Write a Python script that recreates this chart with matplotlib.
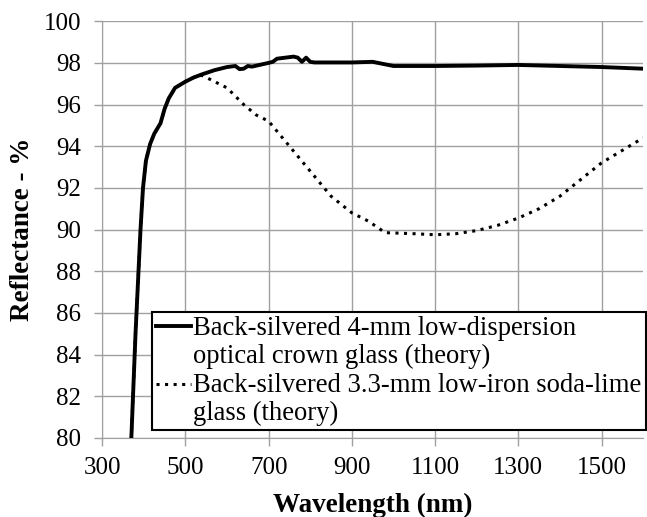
import matplotlib.pyplot as plt
import numpy as np
from matplotlib.legend_handler import HandlerLine2D

plt.rcParams['font.family'] = ['Liberation Serif', 'DejaVu Serif']

# crown glass (solid)
wl_crown = [370, 375, 380, 386, 392, 398, 405, 415, 425, 440, 450, 460, 475, 500, 520, 540,
            570, 600, 620, 630, 640, 650, 660, 700, 710, 720, 760, 770, 780, 790, 800,
            810, 900, 950, 1000, 1100, 1200, 1300, 1400, 1500, 1600]
r_crown = [80.0, 82.5, 85.0, 87.5, 90.0, 92.0, 93.3, 94.1, 94.6, 95.1, 95.8, 96.3, 96.8, 97.1, 97.3, 97.45,
           97.65, 97.8, 97.85, 97.7, 97.72, 97.85, 97.82, 98.0, 98.05, 98.2, 98.3, 98.25, 98.05, 98.25, 98.05,
           98.02, 98.02, 98.05, 97.85, 97.85, 97.87, 97.9, 97.85, 97.8, 97.72]

# soda-lime glass (dotted)
wl_soda = [370, 375, 380, 386, 392, 398, 405, 415, 425, 440, 450, 460, 475, 500, 520, 540,
           560, 600, 640, 670, 700, 750, 800, 850, 900, 940, 980, 1050, 1100, 1150, 1200,
           1250, 1300, 1350, 1400, 1450, 1500, 1550, 1600]
r_soda = [80.0, 82.5, 85.0, 87.5, 90.0, 92.0, 93.3, 94.1, 94.6, 95.1, 95.8, 96.3, 96.8, 97.1, 97.3, 97.4,
          97.2, 96.8, 96.0, 95.5, 95.2, 94.0, 92.8, 91.6, 90.8, 90.4, 89.85, 89.8, 89.75, 89.8, 89.95,
          90.2, 90.55, 91.0, 91.6, 92.4, 93.2, 93.8, 94.4]

label_crown = "Back-silvered 4-mm low-dispersion\noptical crown glass (theory)"
label_soda = "Back-silvered 3.3-mm low-iron soda-lime\nglass (theory)"


class FirstLineHandler(HandlerLine2D):
    # put the legend line next to the first text line, like Excel does
    def create_artists(self, legend, orig_handle, xdescent, ydescent, width, height, fontsize, trans):
        return super().create_artists(legend, orig_handle, xdescent, ydescent - 1.2 * fontsize,
                                      width, height, fontsize, trans)


fig = plt.figure(figsize=(6.47, 5.17), dpi=100)
ax = fig.add_axes([0.158, 0.153, 0.836, 0.806])

l1, = ax.plot(wl_crown, r_crown, color='black', linewidth=2.8, label=label_crown, zorder=3)
l2, = ax.plot(wl_soda, r_soda, color='black', linewidth=2.2, linestyle=(0, (1, 1.8)), label=label_soda, zorder=3)

ax.set_xlim(300, 1600)
ax.set_ylim(80, 100)
ax.set_xticks(np.arange(300, 1600, 200))
ax.set_yticks(np.arange(80, 101, 2))
ax.grid(True, color='#a0a0a0', linewidth=1)
ax.set_axisbelow(True)
for side in ['top', 'right']:
    ax.spines[side].set_visible(False)
for side in ['left', 'bottom']:
    ax.spines[side].set_color('#a0a0a0')
ax.tick_params(colors='#a0a0a0', labelcolor='black', labelsize=18, length=6, width=1)
ax.tick_params(axis='x', pad=8)
ax.tick_params(axis='y', pad=9)

ax.set_xlabel("Wavelength (nm)", fontsize=19.5, fontweight='bold', va='center')
ax.set_ylabel("Reflectance - %", fontsize=19.5, fontweight='bold', va='center')
ax.xaxis.set_label_coords(0.5, -0.161)
ax.yaxis.set_label_coords(-0.148, 0.5)

leg = ax.legend(loc='lower left', bbox_to_anchor=(0.092, 0.018), fontsize=19.2,
                frameon=True, fancybox=False, edgecolor='black', framealpha=1,
                handlelength=1.3, handletextpad=0.1, borderpad=0.15, borderaxespad=0,
                labelspacing=0.15,
                handler_map={l1: FirstLineHandler(), l2: FirstLineHandler()})
leg.get_frame().set_linewidth(1.5)
for t in leg.get_texts():
    t.set_linespacing(1.17)

fig.savefig("out.png", dpi=100)
